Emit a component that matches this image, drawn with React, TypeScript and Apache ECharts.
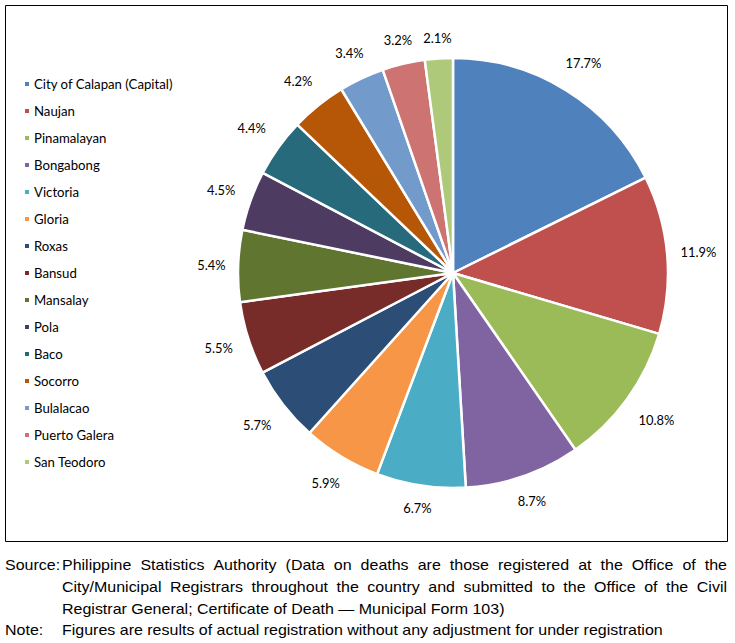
import React, { useEffect, useRef } from 'react';
import * as echarts from 'echarts';

const categories = [
  'City of Calapan (Capital)',
  'Naujan',
  'Pinamalayan',
  'Bongabong',
  'Victoria',
  'Gloria',
  'Roxas',
  'Bansud',
  'Mansalay',
  'Pola',
  'Baco',
  'Socorro',
  'Bulalacao',
  'Puerto Galera',
  'San Teodoro',
];

const shares = [17.7, 11.9, 10.8, 8.7, 6.7, 5.9, 5.7, 5.5, 5.4, 4.5, 4.4, 4.2, 3.4, 3.2, 2.1];

const colors = [
  '#4F81BD', '#C0504D', '#9BBB59', '#8064A2', '#4BACC6',
  '#F79646', '#2C4D75', '#772C2A', '#5F7530', '#4D3B62',
  '#276A7C', '#B65708', '#729ACA', '#CD7371', '#AFC97A',
];

const sourceLabel = 'Source:';
const sourceLines = [
  'Philippine Statistics Authority (Data on deaths are those registered at the Office of the',
  'City/Municipal Registrars throughout the country and submitted to the Office of the Civil',
  'Registrar General; Certificate of Death \u2014 Municipal Form 103)',
];
const noteLabel = 'Note:';
const noteLine = 'Figures are results of actual registration without any adjustment for under registration';

export default function App() {
  const ref = useRef<HTMLDivElement>(null);

  useEffect(() => {
    const chart = echarts.init(ref.current!, null, { renderer: 'svg' });
    const CX = 453, CY = 273, R = 215;
    const total = shares.reduce((a, b) => a + b, 0);
    const mids: number[] = [];
    let acc = 0;
    shares.forEach((v) => { mids.push(acc + v / 2); acc += v; });

    const FF = "'Liberation Sans Narrow', 'Liberation Sans', Arial, sans-serif";
    const FS = 15;
    const ctx = document.createElement('canvas').getContext('2d')!;
    ctx.font = `${FS}px ${FF}`;
    const natural = ctx.measureText(noteLine).width;
    const sx = 601 / natural;
    const TX = 62, TR = 727;
    const lineY = [565, 586.6, 608.2, 629.8];

    const textStyle = (text: string) => ({
      text, fontSize: FS, fontFamily: FF, fill: '#000',
      align: 'left', verticalAlign: 'middle', textAlign: 'left', textVerticalAlign: 'middle',
    });

    const graphics: any[] = [
      { type: 'rect', silent: true, shape: { x: 5.5, y: 5.5, width: 722, height: 536 },
        style: { fill: 'none', stroke: '#000', lineWidth: 1 } },
      { type: 'text', x: 5, y: lineY[0], scaleX: sx, style: textStyle(sourceLabel) },
      { type: 'text', x: 5, y: lineY[3], scaleX: sx, style: textStyle(noteLabel) },
    ];

    sourceLines.forEach((line, li) => {
      if (li < 2) {
        const words = line.split(' ');
        const ws = words.map((w) => ctx.measureText(w).width * sx);
        const sum = ws.reduce((a, b) => a + b, 0);
        const gap = (TR - TX - sum) / (words.length - 1);
        let x = TX;
        words.forEach((w, wi) => {
          graphics.push({ type: 'text', x, y: lineY[li], scaleX: sx, style: textStyle(w) });
          x += ws[wi] + gap;
        });
      } else {
        graphics.push({ type: 'text', x: TX, y: lineY[li], scaleX: sx, style: textStyle(line) });
      }
    });
    graphics.push({ type: 'text', x: TX, y: lineY[3], scaleX: sx, style: textStyle(noteLine) });

    chart.setOption({
      animation: false,
      color: colors,
      legend: {
        orient: 'vertical',
        left: 18,
        top: 72,
        icon: 'rect',
        itemWidth: 6,
        itemHeight: 6,
        itemGap: 13,
        data: categories,
        textStyle: { fontFamily: 'Lato, sans-serif', fontSize: 13.2, color: '#000', lineHeight: 14, padding: [0, 0, 0, -1] },
      },
      series: [
        {
          type: 'pie',
          center: [CX, CY],
          radius: [0, R],
          startAngle: 90,
          clockwise: true,
          avoidLabelOverlap: false,
          itemStyle: { borderColor: '#fff', borderWidth: 2.5 },
          label: {
            show: true,
            position: 'outside',
            overflow: 'none',
            fontFamily: 'Lato, sans-serif',
            fontSize: 12.9,
            color: '#000',
            formatter: (p: any) => `${p.value.toFixed(1)}%`,
          },
          labelLine: { show: false },
          labelLayout: (p: any) => {
            const i = p.dataIndex;
            const a = (mids[i] / total) * 2 * Math.PI;
            const dx = Math.sin(a), dy = -Math.cos(a);
            const w = p.labelRect.width, h = p.labelRect.height;
            const d = R + 12 + Math.abs(dx) * w / 2 + Math.abs(dy) * h / 2 + 12 * Math.abs(dx * dy);
            return { x: CX + dx * d, y: CY + dy * d, align: 'center', verticalAlign: 'middle' };
          },
          data: categories.map((name, i) => ({ name, value: shares[i] })),
        },
      ],
      graphic: { elements: graphics },
    });
    return () => chart.dispose();
  }, []);

  return <div ref={ref} style={{ position: 'absolute', left: 0, top: 0, width: 735, height: 643, background: '#fff' }} />;
}
